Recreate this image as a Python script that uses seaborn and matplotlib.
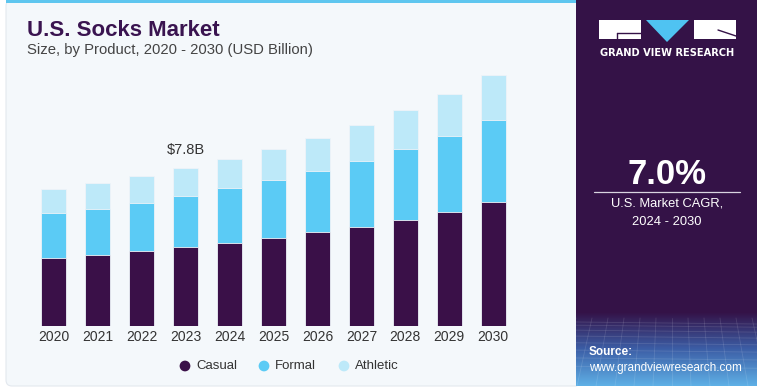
import numpy as np
import pandas as pd
import matplotlib
matplotlib.use("Agg")
import matplotlib.pyplot as plt
from matplotlib.patches import Rectangle, Polygon, FancyBboxPatch
import seaborn as sns

# ---- data ----
years = ["2020", "2021", "2022", "2023", "2024", "2025", "2026", "2027", "2028", "2029", "2030"]
casual = [3.36, 3.52, 3.69, 3.90, 4.11, 4.36, 4.63, 4.90, 5.25, 5.64, 6.11]
formal = [2.21, 2.27, 2.40, 2.52, 2.69, 2.83, 3.03, 3.26, 3.49, 3.75, 4.06]
athletic = [1.20, 1.27, 1.30, 1.37, 1.43, 1.56, 1.63, 1.76, 1.91, 2.06, 2.21]
series_names = ["Casual", "Formal", "Athletic"]
annot_year = "2023"
annot_text = "$7.8B"

C_CASUAL = "#3a1048"
C_FORMAL = "#5bcbf5"
C_ATHL = "#bde9f9"
BG = "#f4f8fb"
PANEL = "#341247"

sns.set_theme(style="white")
plt.rcParams["font.family"] = ["Liberation Sans", "DejaVu Sans"]

W, H = 763, 390
fig = plt.figure(figsize=(W / 100, H / 100), dpi=100)
fig.patch.set_facecolor("white")

def fx(px):
    return px / W

def fy(py):
    return 1 - py / H

# background card
bgax = fig.add_axes([0, 0, 1, 1])
bgax.set_xlim(0, W)
bgax.set_ylim(H, 0)
bgax.axis("off")
bgax.add_patch(FancyBboxPatch((6, 0), 575, 386, boxstyle="round,pad=0,rounding_size=6",
                              facecolor=BG, edgecolor="#e3e8ee", linewidth=0.8))
bgax.add_patch(Rectangle((6, 0), 572, 3, facecolor="#5ec6ef", edgecolor="none"))
# right panel with gradient at bottom
grad = np.zeros((200, 1, 3))
top = np.array([0x34, 0x12, 0x47]) / 255
mid = np.array([0x3c, 0x5e, 0xa6]) / 255
bot = np.array([0x5f, 0xb0, 0xe6]) / 255
for i in range(200):
    t = i / 199
    if t < 0.5:
        c = top + (mid - top) * (t / 0.5)
    else:
        c = mid + (bot - mid) * ((t - 0.5) / 0.5)
    grad[i, 0] = c
bgax.add_patch(Rectangle((576, 0), 181, 386, facecolor=PANEL, edgecolor="none"))
bgax.imshow(grad, extent=(576, 757, 386, 312), aspect="auto", zorder=2)
# faint grid texture
for k in range(12):
    xk = 576 + k * 16
    bgax.plot([xk, xk + (k - 6) * 3], [318, 386], color="white", alpha=0.12, lw=0.6, zorder=3)
for k in range(8):
    yk = 322 + k ** 1.35 * 3.2
    bgax.plot([576, 757], [yk, yk + 2], color="white", alpha=0.12, lw=0.6, zorder=3)
bgax.set_xlim(0, W)
bgax.set_ylim(H, 0)

# logo
bgax.add_patch(Rectangle((599, 20), 42, 19, facecolor="white", edgecolor="none", zorder=4))
bgax.plot([617, 641], [33, 33], color=PANEL, lw=1.0, zorder=5)
bgax.plot([617, 617], [33, 39], color=PANEL, lw=1.0, zorder=5)
bgax.add_patch(Polygon([(646, 20), (689, 20), (667, 42)], closed=True, facecolor="#4fc3f2", edgecolor="none", zorder=4))
bgax.add_patch(Rectangle((694, 20), 42, 19, facecolor="white", edgecolor="none", zorder=4))
bgax.plot([718, 736], [30, 36], color=PANEL, lw=1.0, zorder=5)
bgax.text(667.5, 53, "GRAND VIEW RESEARCH", color="white", fontsize=7.1, fontweight="bold",
          ha="center", va="center", family=["DejaVu Sans"], zorder=5)

# panel texts
bgax.text(667, 175, "7.0%", color="white", fontsize=25, fontweight="bold", ha="center", va="center", zorder=5)
bgax.plot([594, 740], [192, 192], color="#d9d4e0", lw=0.9, zorder=5)
bgax.text(667, 204, "U.S. Market CAGR,", color="white", fontsize=9.3, ha="center", va="center", zorder=5)
bgax.text(667, 222, "2024 - 2030", color="white", fontsize=9.3, ha="center", va="center", zorder=5)
bgax.text(589, 352, "Source:", color="white", fontsize=8.5, fontweight="bold", ha="left", va="center", zorder=5)
bgax.text(589, 368, "www.grandviewresearch.com", color="white", fontsize=8.5, ha="left", va="center", zorder=5)

# titles
bgax.text(27, 30, "U.S. Socks Market", color="#3a1450", fontsize=16, fontweight="bold", ha="left", va="center")
bgax.text(27, 50, "Size, by Product, 2020 - 2030 (USD Billion)", color="#444444", fontsize=10.7, ha="left", va="center")

# ---- main chart ----
df = pd.DataFrame({"year": years, "Casual": casual, "Formal": formal, "Athletic": athletic})
df["cf"] = df["Casual"] + df["Formal"]
df["total"] = df["cf"] + df["Athletic"]

ax_l, ax_r = 30, 517
ax_top, ax_bot = 70, 326
ax = fig.add_axes([fx(ax_l), fy(ax_bot), (ax_r - ax_l) / W, (ax_bot - ax_top) / H])
ax.set_facecolor("none")
bw = 0.575
ec = "#eef3f8"
sns.barplot(data=df, x="year", y="total", color=C_ATHL, saturation=1, width=bw, ax=ax,
            edgecolor=ec, linewidth=0.6)
sns.barplot(data=df, x="year", y="cf", color=C_FORMAL, saturation=1, width=bw, ax=ax,
            edgecolor=ec, linewidth=0.6)
sns.barplot(data=df, x="year", y="Casual", color=C_CASUAL, saturation=1, width=bw, ax=ax,
            edgecolor=ec, linewidth=0.6)
scale = 0.04937
ax.set_ylim(0, (ax_bot - ax_top) * scale)
ax.set_xlim(-0.54, 10.54)
ax.set_xlabel("")
ax.set_ylabel("")
ax.set_yticks([])
ax.tick_params(axis="x", length=0, pad=3, labelsize=10, labelcolor="#333333")
for s in ax.spines.values():
    s.set_visible(False)
i_ann = years.index(annot_year)
ax.text(i_ann, df["total"][i_ann] + 0.55, annot_text, ha="center", va="bottom", fontsize=10.5, color="#333333")

# legend
leg_y = 366
for name, col, xm in zip(series_names, [C_CASUAL, C_FORMAL, C_ATHL], [185, 264, 344]):
    bgax.scatter([xm], [leg_y], s=60, color=col, edgecolor="none", zorder=5)
    bgax.text(xm + 11, leg_y, name, fontsize=9.5, color="#333333", ha="left", va="center")

fig.savefig("out.png", dpi=100, facecolor=fig.get_facecolor())
